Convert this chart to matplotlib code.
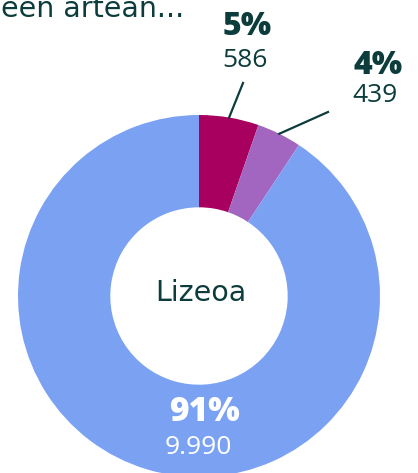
import numpy as np
import matplotlib.pyplot as plt

# data
categories = ['Lanbide Heziketa', 'Beste batzuk', 'Lizeoa']
values = [586, 439, 9990]
colors = ['#a8005f', '#a266c0', '#7ba1f3']
center_label = 'Lizeoa'
title = 'een artean...'

dark = '#0d3c3c'
total = sum(values)
pcts = [round(v / total * 100) for v in values]
fmt = lambda v: f'{v:,}'.replace(',', '.')

W, H = 418, 473
fig = plt.figure(figsize=(W / 100, H / 100), dpi=100)
ax = fig.add_axes([0, 0, 1, 1])

cx, cy, R = 199, H - 296, 181
wedges, _ = ax.pie(values, colors=colors, startangle=90, counterclock=False,
                   center=(cx, cy), radius=R, frame=True,
                   wedgeprops=dict(width=R * 0.51, linewidth=0))
ax.set_xlim(0, W)
ax.set_ylim(0, H)
ax.set_aspect('equal')
ax.axis('off')

ax.text(cx + 2, cy + 3, center_label, ha='center', va='center', fontsize=20.5,
        family='DejaVu Sans', color=dark)

ax.text(184, H - 17, title, ha='right', va='baseline', fontsize=20.5,
        family='DejaVu Sans', color=dark)

# small slices: labels outside with leader lines
pct_pos = [(247, H - 27), (378, H - 66)]
num_pos = [(245, H - 60), (375, H - 95)]
line_end = [(243, H - 83), (328, H - 112)]
for w, p, v, (px, py), (nx, ny), (lx, ly) in zip(wedges[:2], pcts, values,
                                                  pct_pos, num_pos, line_end):
    ang = np.deg2rad((w.theta1 + w.theta2) / 2)
    sx, sy = cx + R * np.cos(ang), cy + R * np.sin(ang)
    ax.plot([sx, lx], [sy, ly], color=dark, lw=1.6)
    ax.text(px, py, f'{p}%', ha='center', va='center', fontsize=23,
            fontweight='black', family='Open Sans', color=dark)
    ax.text(nx, ny, fmt(v), ha='center', va='center', fontsize=19,
            family='Open Sans', color=dark)

# big slice label inside
ax.text(204, H - 412, f'{pcts[2]}%', ha='center', va='center', fontsize=24,
        fontweight='black', family='Open Sans', color='white')
ax.text(198, H - 447, fmt(values[2]), ha='center', va='center', fontsize=19,
        family='Open Sans', color='white')

fig.savefig('out.png', dpi=100)
